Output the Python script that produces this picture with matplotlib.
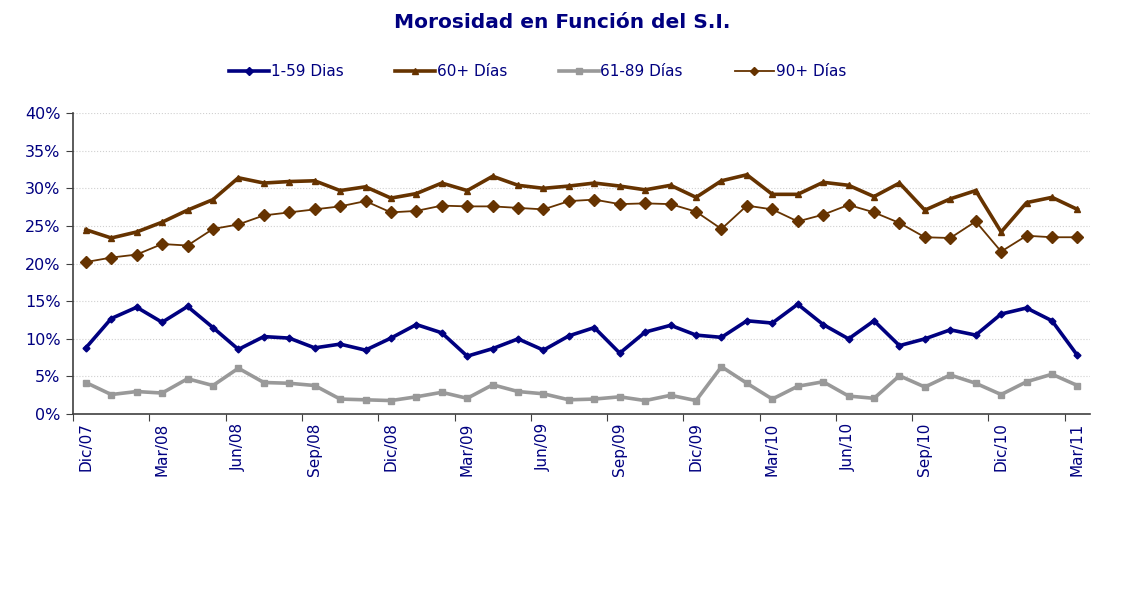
import numpy as np
import matplotlib
matplotlib.use('Agg')
import matplotlib.pyplot as plt
from matplotlib.ticker import FuncFormatter, FixedLocator

# Monthly delinquency (% of S.I.), Dic/07 .. Mar/11
months = ['Dic/07', 'Ene/08', 'Feb/08', 'Mar/08', 'Abr/08', 'May/08', 'Jun/08', 'Jul/08', 'Ago/08', 'Sep/08',
          'Oct/08', 'Nov/08', 'Dic/08', 'Ene/09', 'Feb/09', 'Mar/09', 'Abr/09', 'May/09', 'Jun/09', 'Jul/09',
          'Ago/09', 'Sep/09', 'Oct/09', 'Nov/09', 'Dic/09', 'Ene/10', 'Feb/10', 'Mar/10', 'Abr/10', 'May/10',
          'Jun/10', 'Jul/10', 'Ago/10', 'Sep/10', 'Oct/10', 'Nov/10', 'Dic/10', 'Ene/11', 'Feb/11', 'Mar/11']

dias_1_59 = [8.8, 12.7, 14.2, 12.2, 14.3, 11.5, 8.6, 10.3, 10.1, 8.8,
             9.3, 8.5, 10.1, 11.9, 10.8, 7.7, 8.7, 10.0, 8.5, 10.4,
             11.5, 8.1, 10.9, 11.8, 10.5, 10.2, 12.4, 12.1, 14.6, 11.9,
             10.0, 12.4, 9.1, 10.0, 11.2, 10.5, 13.3, 14.1, 12.4, 7.8]

dias_60_mas = [24.5, 23.4, 24.2, 25.5, 27.1, 28.5, 31.4, 30.7, 30.9, 31.0,
               29.7, 30.2, 28.7, 29.3, 30.7, 29.7, 31.6, 30.4, 30.0, 30.3,
               30.7, 30.3, 29.8, 30.4, 28.8, 31.0, 31.8, 29.2, 29.2, 30.8,
               30.4, 28.9, 30.7, 27.1, 28.6, 29.7, 24.2, 28.1, 28.8, 27.2]

dias_61_89 = [4.2, 2.6, 3.0, 2.8, 4.7, 3.8, 6.1, 4.2, 4.1, 3.8,
              2.0, 1.9, 1.8, 2.3, 2.9, 2.1, 3.9, 3.0, 2.7, 1.9,
              2.0, 2.3, 1.8, 2.5, 1.8, 6.3, 4.1, 2.0, 3.7, 4.3,
              2.4, 2.1, 5.1, 3.6, 5.2, 4.1, 2.6, 4.3, 5.3, 3.8]

dias_90_mas = [20.2, 20.8, 21.2, 22.6, 22.4, 24.6, 25.2, 26.4, 26.8, 27.2,
               27.6, 28.3, 26.8, 27.0, 27.7, 27.6, 27.6, 27.4, 27.2, 28.3,
               28.5, 27.9, 28.0, 27.9, 26.9, 24.6, 27.7, 27.2, 25.6, 26.5,
               27.8, 26.8, 25.4, 23.5, 23.4, 25.6, 21.6, 23.7, 23.5, 23.5]

navy = '#000080'
brown = '#663300'
grey = '#999999'

fig = plt.figure(figsize=(11.25, 5.95), dpi=100)
ax = fig.add_axes([0.065, 0.304, 0.904, 0.506])

x = np.arange(len(months))
ax.plot(x, dias_1_59, color=navy, lw=2.6, marker='D', ms=3.5, label='1-59 Dias', zorder=4)
ax.plot(x, dias_60_mas, color=brown, lw=2.6, marker='^', ms=5, label='60+ Días', zorder=3)
ax.plot(x, dias_61_89, color=grey, lw=2.6, marker='s', ms=5, label='61-89 Días', zorder=3)
ax.plot(x, dias_90_mas, color=brown, lw=1.3, marker='D', ms=6, label='90+ Días', zorder=3)

ax.set_ylim(0, 40)
ax.set_xlim(-0.5, len(months) - 0.5)
ax.set_yticks(np.arange(0, 41, 5))
ax.yaxis.set_major_formatter(FuncFormatter(lambda v, p: f'{v:.0f}%'))
ax.grid(True, axis='y', color='#d0d0d0', lw=0.8, ls=':')
ax.set_axisbelow(True)

# category boundary ticks, labels every quarter
ax.xaxis.set_major_locator(FixedLocator(np.arange(-0.5, len(months), 3)))
ax.xaxis.set_minor_locator(FixedLocator(x[::3]))
ax.set_xticklabels([])
ax.set_xticklabels([months[i] for i in x[::3]], minor=True, rotation=90)
ax.tick_params(axis='x', which='minor', length=0, pad=6, labelsize=11, labelcolor=navy)
ax.tick_params(axis='x', which='major', length=5, color='#404040')
ax.tick_params(axis='y', length=5, color='#404040', labelsize=11.5, labelcolor=navy, pad=4)

for side in ['top', 'right']:
    ax.spines[side].set_visible(False)
for side in ['left', 'bottom']:
    ax.spines[side].set_color('#404040')
    ax.spines[side].set_linewidth(1.2)

fig.text(0.5, 0.962, 'Morosidad en Función del S.I.', ha='center', va='center',
         fontsize=14.5, fontweight='bold', color=navy)

leg = fig.legend(loc='center', bbox_to_anchor=(0.478, 0.88), ncol=4, frameon=False,
                 fontsize=11, handlelength=2.6, columnspacing=3.4, handletextpad=0.1)
for t in leg.get_texts():
    t.set_color(navy)
for h in leg.legend_handles:
    h.set_markersize(4)

fig.savefig('out.png', dpi=100)
